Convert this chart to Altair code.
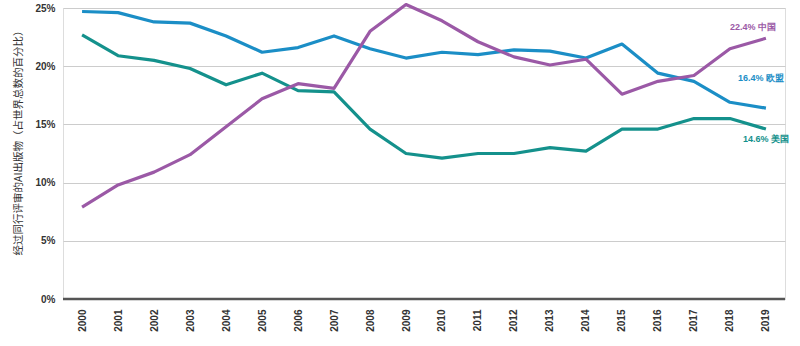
import altair as alt
import pandas as pd

years = [str(y) for y in range(2000, 2020)]
eu = [24.7, 24.6, 23.8, 23.7, 22.6, 21.2, 21.6, 22.6, 21.5, 20.7, 21.2, 21.0, 21.4, 21.3, 20.7, 21.9, 19.4, 18.7, 16.9, 16.4]
us = [22.7, 20.9, 20.5, 19.8, 18.4, 19.4, 17.9, 17.8, 14.6, 12.5, 12.1, 12.5, 12.5, 13.0, 12.7, 14.6, 14.6, 15.5, 15.5, 14.6]
cn = [7.9, 9.8, 10.9, 12.4, 14.8, 17.2, 18.5, 18.1, 23.0, 25.3, 23.9, 22.1, 20.8, 20.1, 20.6, 17.6, 18.7, 19.2, 21.5, 22.4]
series = ["欧盟", "美国", "中国"]
colors = ["#1b8ec6", "#14918c", "#9b59a6"]
label_texts = ["16.4% 欧盟", "14.6% 美国", "22.4% 中国"]

rows = []
for name, vals in zip(series, [eu, us, cn]):
    for y, v in zip(years, vals):
        rows.append({"year": y, "value": v, "series": name})
df = pd.DataFrame(rows)

lab = pd.DataFrame({
    "year": [years[-1]] * 3,
    "value": [eu[-1], us[-1], cn[-1]],
    "series": series,
    "text": label_texts,
})

FONT = "Liberation Sans"

x = alt.X("year:O", scale=alt.Scale(type="point", padding=0.53),
          axis=alt.Axis(title=None, labelAngle=-90, labelFont=FONT, labelFontSize=10,
                        labelFontWeight="bold", labelColor="#333", labelPadding=10,
                        ticks=False, domain=False, grid=False))
y = alt.Y("value:Q", scale=alt.Scale(domain=[0, 25], nice=False),
          axis=alt.Axis(title="经过同行评审的AI出版物（占世界总数的百分比）", values=[0, 5, 10, 15, 20, 25],
                        labelExpr="datum.value + '%'", labelFont=FONT, labelFontSize=10,
                        labelFontWeight="bold", labelColor="#333", labelPadding=8,
                        ticks=False, domain=False, gridColor="#cccccc", gridWidth=1.2,
                        titleFont="Noto Sans CJK SC", titleFontSize=10.5, titleFontWeight="normal",
                        titleColor="#333", titleX=-45, titleY=132, titleAngle=-90,
                        titleAlign="center", titleBaseline="middle"))
color = alt.Color("series:N", scale=alt.Scale(domain=series, range=colors), legend=None)

lines = alt.Chart(df).mark_line(strokeWidth=3.2, strokeJoin="round").encode(x=x, y=y, color=color)

baseline = alt.Chart(pd.DataFrame({"v": [0]})).mark_rule(color="#555555", strokeWidth=2.5).encode(
    y=alt.Y("v:Q", scale=alt.Scale(domain=[0, 25], nice=False)),
    x=alt.value(0), x2=alt.value(722))

def label(name, dx, dy):
    return alt.Chart(lab[lab.series == name]).mark_text(
        align="right", baseline="middle", dx=dx, dy=dy, font=FONT, fontSize=9, fontWeight="bold"
    ).encode(x=x, y=y, text="text:N", color=color)

labels = label("中国", 10, -11) + label("欧盟", 18, -30) + label("美国", 23, 10)

chart = alt.layer(baseline, lines, labels).properties(
    width=722, height=291,
    autosize=alt.AutoSizeParams(type="none"),
    padding={"left": 63, "top": 8, "right": 15, "bottom": 47},
).configure_view(stroke=None).configure(background="white")

chart.save("out.html", embed_options={"renderer": "svg", "actions": False})
